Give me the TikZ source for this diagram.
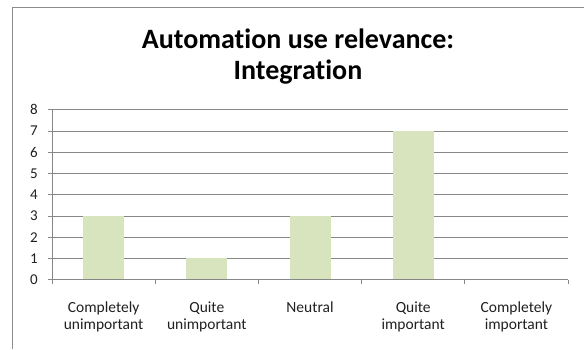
\documentclass[tikz,border=0pt]{standalone}
\usepackage{fontspec}
\setmainfont[Ligatures=NoCommon]{Carlito}
\definecolor{gridgray}{HTML}{878787}
\definecolor{framegray}{HTML}{8C8C8C}
\definecolor{barfill}{HTML}{D7E4BD}
\definecolor{labeltext}{HTML}{202020}
\begin{document}
\begin{tikzpicture}[x=1pt,y=-1pt,
  gridline/.style={draw=gridgray,line width=0.8pt},
  bar/.style={fill=barfill,draw=none},
  ylab/.style={anchor=east,font=\fontsize{15}{15}\selectfont,text=labeltext,inner sep=0pt},
  xlab/.style={anchor=base,align=center,font=\fontsize{15.5}{16.8}\selectfont,text=labeltext,inner sep=0pt},
  titlestyle/.style={anchor=base,align=center,font=\bfseries\fontsize{28}{31.5}\selectfont,inner sep=0pt}]
\useasboundingbox (0,0) rectangle (584,349);
% chart frame
\draw[framegray,line width=0.8pt] (12,349) -- (12,7) -- (584,7);
% title (base anchor sits on the last line)
\node[titlestyle] (title) at (298,79.5) {Automation use relevance:\\Integration};
% horizontal gridlines, y ticks and labels
\foreach \v in {0,...,8}{
  \pgfmathsetmacro{\yy}{279.7-21.25*\v}
  \draw[gridline] (48,\yy) -- (568,\yy);
  \node[ylab] (y\v) at (38,\yy) {\v};
}
% bars
\foreach \i/\h in {1/3,2/1,3/3,4/7}{
  \pgfmathsetmacro{\cx}{52+103.2*(\i-0.5)}
  \pgfmathsetmacro{\top}{279.7-21.25*\h}
  \fill[bar] (\cx-20.5,279.7) rectangle (\cx+20.5,\top);
}
% axes
\draw[gridline] (52,109.7) -- (52,279.7);
\draw[gridline] (52,279.7) -- (568,279.7);
\foreach \i in {0,...,5}{
  \draw[gridline] (52+103.2*\i,279.7) -- (52+103.2*\i,284);
}
% category labels
\node[xlab] (c1) at (103.6,329.5) {Completely\\unimportant};
\node[xlab] (c2) at (206.8,329.5) {Quite\\unimportant};
\node[xlab] (c3) at (310.0,312.7) {Neutral};
\node[xlab] (c4) at (413.2,329.5) {Quite\\important};
\node[xlab] (c5) at (516.4,329.5) {Completely\\important};
\end{tikzpicture}
\end{document}
